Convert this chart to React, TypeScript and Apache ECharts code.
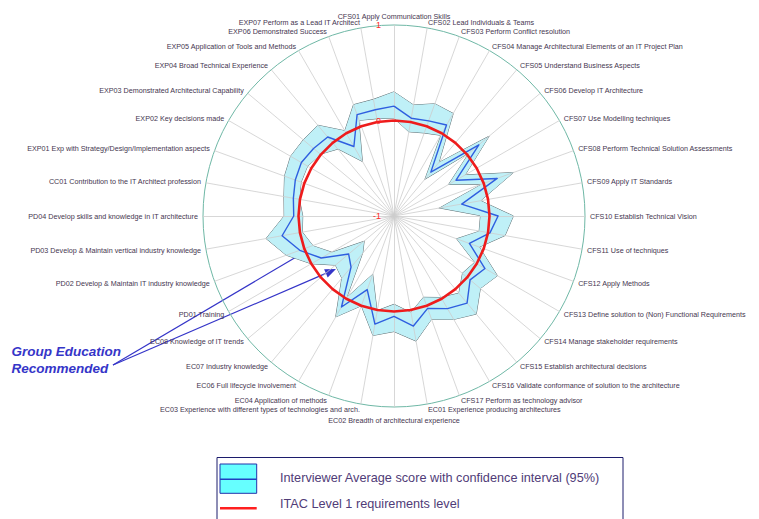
import React, { useEffect, useRef } from "react";
import * as echarts from "echarts";

// Competencies, clockwise from the top
const competencies = [
  "CFS01 Apply Communication Skills",
  "CFS02 Lead Individuals & Teams",
  "CFS03 Perform Conflict resolution",
  "CFS04 Manage Architectural Elements of an IT Project Plan",
  "CFS05 Understand Business Aspects",
  "CFS06 Develop IT Architecture",
  "CFS07 Use Modelling techniques",
  "CFS08 Perform Technical Solution Assessments",
  "CFS09 Apply IT Standards",
  "CFS10 Establish Technical Vision",
  "CFS11 Use of techniques",
  "CFS12 Apply Methods",
  "CFS13 Define solution to (Non) Functional Requirements",
  "CFS14 Manage stakeholder requirements",
  "CFS15 Establish architectural decisions",
  "CFS16 Validate conformance of solution to the architecture",
  "CFS17 Perform as technology advisor",
  "EC01 Experience producing architectures",
  "EC02 Breadth of architectural experience",
  "EC03 Experience with different types of technologies and arch.",
  "EC04 Application of methods",
  "EC06 Full lifecycle involvement",
  "EC07 Industry knowledge",
  "EC08 Knowledge of IT trends",
  "PD01 Training",
  "PD02 Develop & Maintain IT industry knowledge",
  "PD03 Develop & Maintain vertical industry knowledge",
  "PD04 Develop skills and knowledge in IT architecture",
  "CC01 Contribution to the IT Architect profession",
  "EXP01 Exp with Strategy/Design/Implementation aspects",
  "EXP02 Key decisions made",
  "EXP03 Demonstrated Architectural Capability",
  "EXP04 Broad Technical Experience",
  "EXP05 Application of Tools and Methods",
  "EXP06 Demonstrated Success",
  "EXP07 Perform as a Lead IT Architect",
];

// Upper bound of 95% confidence interval
const upperBound = [
  0.3, 0.18, 0.25, 0.24, -0.27, 0.3, -0.14, 0.33, -0.08, 0.25, 0.18, -0.05,
  0.25, 0.18, 0.34, 0.25, 0.15, 0.33, 0.21, 0.27, 0.0, 0.22, -0.15, -0.2,
  0.0, 0.2, 0.36, 0.15, 0.17, 0.22, 0.25, 0.24, 0.24, 0.03, 0.24, 0.24,
];
// Interviewer average score
const averageScore = [
  0.15, 0.04, 0.06, 0.1, -0.4, 0.16, -0.25, 0.15, -0.28, 0.09, 0.02, -0.16,
  0.1, 0.04, 0.19, 0.12, 0.03, 0.17, 0.05, 0.15, -0.18, 0.1, -0.3, -0.38,
  -0.12, 0.05, 0.19, 0.05, 0.07, 0.1, 0.12, 0.1, 0.08, -0.16, 0.13, 0.13,
];
// Lower bound of 95% confidence interval
const lowerBound = [
  0.02, -0.11, -0.08, -0.03, -0.51, 0.01, -0.35, -0.04, -0.53, -0.1, -0.1, -0.31,
  -0.03, -0.07, 0.05, -0.02, -0.1, 0.02, -0.08, 0.0, -0.36, -0.03, -0.5, -0.6,
  -0.25, -0.1, -0.03, -0.05, 0.0, 0.03, 0.04, 0.0, -0.09, -0.35, 0.06, 0.03,
];
// ITAC Level 1 requirements level
const itacLevel = [
  0, 0, 0, 0, 0, 0, 0, 0, 0, 0, 0, 0, 0, 0, 0, 0, 0, 0,
  0, 0, 0, 0, 0, 0, 0, 0, 0, 0, 0, 0, 0, 0, 0, 0, 0, 0,
];
const scaleMin = -1;
const scaleMax = 1;
const scaleStep = 1;

const legendLabels = [
  "Interviewer Average score with confidence interval (95%)",
  "ITAC Level 1 requirements level",
];
const annotationLines = ["Group Education", "Recommended"];

// ECharts radar runs counter-clockwise: reorder so the list reads clockwise
const ccw = <T,>(arr: T[]): T[] => [arr[0], ...arr.slice(1).reverse()];

export default function App() {
  const ref = useRef<HTMLDivElement>(null);
  useEffect(() => {
    if (!ref.current) return;
    const chart = echarts.init(ref.current, undefined, { renderer: "svg" });
    const center = [394, 216];
    const radius = 191;
    const font = "Liberation Sans, Arial, sans-serif";
    const indicators = ccw(competencies).map((n) => ({ name: n, min: scaleMin, max: scaleMax }));
    const grey = "#5f6e72";
    const annColor = "#3535c8";

    const arrow = (fx: number, fy: number, tx: number, ty: number) => {
      const dx = tx - fx, dy = ty - fy;
      const len = Math.hypot(dx, dy);
      const ux = dx / len, uy = dy / len;
      const nx = -uy, ny = ux;
      const hl = 11, hw = 4.5;
      const bx = tx - hl * ux, by = ty - hl * uy;
      return [
        { type: "line", shape: { x1: fx, y1: fy, x2: bx, y2: by }, style: { stroke: annColor, lineWidth: 1.2 } },
        {
          type: "polygon",
          shape: { points: [[tx, ty], [bx + hw * nx, by + hw * ny], [bx - hw * nx, by - hw * ny]] },
          style: { fill: annColor },
        },
      ];
    };

    chart.setOption({
      animation: false,
      radar: [
        {
          center, radius, startAngle: 90, shape: "circle", splitNumber: 1,
          indicator: indicators,
          nameGap: 5,
          axisName: { color: "#45364f", fontSize: 7.2, fontFamily: font, padding: [5, 0, 0, 0] },
          axisLine: { show: false },
          axisTick: { show: false },
          axisLabel: { show: false },
          splitLine: { lineStyle: { color: "#6fb8a6", width: 1 } },
          splitArea: { show: false },
          z: 0,
        },
        {
          center, radius, startAngle: 90, shape: "circle", splitNumber: 1,
          indicator: indicators,
          axisName: { show: false },
          axisLine: { lineStyle: { color: "#cdcdcd", width: 0.8 } },
          axisTick: { show: false },
          axisLabel: { show: false },
          splitLine: { show: false },
          splitArea: { show: false },
          z: 3,
        },
      ],
      polar: { center, radius },
      angleAxis: { type: "value", min: 0, max: 360, startAngle: 90, show: false },
      radiusAxis: {
        type: "value", min: scaleMin, max: scaleMax, interval: scaleStep,
        axisLine: { show: false }, axisTick: { show: false }, splitLine: { show: false },
        axisLabel: { color: "#ff2b2b", fontSize: 9, fontFamily: font, margin: 13 },
        z: 5,
      },
      series: [
        {
          type: "radar", radarIndex: 0, z: 2, symbol: "none", silent: true,
          data: [
            { value: ccw(upperBound), lineStyle: { color: grey, width: 1 }, areaStyle: { color: "#bff0f7", opacity: 1 } },
            { value: ccw(lowerBound), lineStyle: { color: grey, width: 1 }, areaStyle: { color: "#ffffff", opacity: 1 } },
          ],
        },
        {
          type: "radar", radarIndex: 0, z: 4, symbol: "none", silent: true,
          data: [
            { value: ccw(averageScore), lineStyle: { color: "#2f5fe0", width: 1.4 } },
            { value: ccw(itacLevel), lineStyle: { color: "#ee1c1c", width: 2.6 } },
          ],
        },
      ],
      graphic: [
        { type: "text", x: 11.5, y: 351, style: { text: annotationLines[0], font: `italic bold 13.5px ${font}`, fill: annColor, verticalAlign: "middle" } },
        { type: "text", x: 11.5, y: 368, style: { text: annotationLines[1], font: `italic bold 13.5px ${font}`, fill: annColor, verticalAlign: "middle" } },
        ...arrow(113, 365, 420, 184),
        ...arrow(113, 365, 336, 269),
        { type: "rect", shape: { x: 217, y: 457.5, width: 406, height: 70 }, style: { fill: "#fff", stroke: "#1c1c6c", lineWidth: 1 } },
        { type: "rect", shape: { x: 220, y: 464, width: 36.7, height: 29.3 }, style: { fill: "#66ffff", stroke: "#2233aa", lineWidth: 1 } },
        { type: "line", shape: { x1: 220, y1: 479.3, x2: 256.7, y2: 479.3 }, style: { stroke: "#2040c0", lineWidth: 1.5 } },
        { type: "line", shape: { x1: 220, y1: 508.3, x2: 256.7, y2: 508.3 }, style: { stroke: "#ff2020", lineWidth: 2.5 } },
        { type: "text", x: 280, y: 478, style: { text: legendLabels[0], font: `12.7px ${font}`, fill: "#503c78", verticalAlign: "middle" } },
        { type: "text", x: 280, y: 503.5, style: { text: legendLabels[1], font: `12.7px ${font}`, fill: "#503c78", verticalAlign: "middle" } },
      ],
    });
    return () => chart.dispose();
  }, []);
  return (
    <div
      ref={ref}
      style={{ position: "fixed", left: 0, top: 0, width: 759, height: 519, background: "#fff" }}
    />
  );
}
